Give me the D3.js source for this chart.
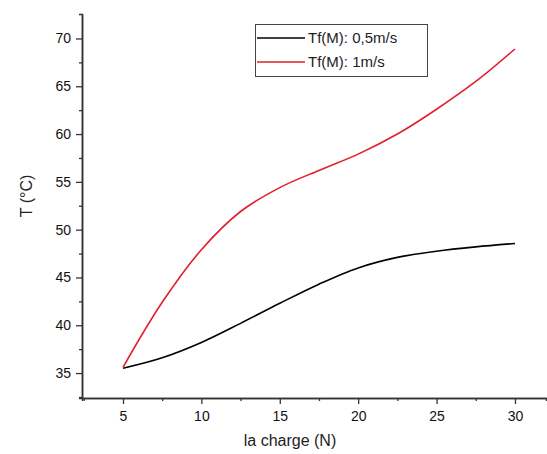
<!DOCTYPE html>
<html><head><meta charset="utf-8">
<script src="https://cdn.jsdelivr.net/npm/d3@7"></script>
<style>body{margin:0;background:#fff}svg{display:block}text{font-family:Arial,"Liberation Sans",sans-serif}</style>
</head><body><svg id="c" width="547" height="454"></svg>
<script>
const charge = [5, 7.5, 10, 12.5, 15, 17.5, 20, 22.5, 25, 27.5, 30];
const tSlow = [35.5, 36.6, 38.2, 40.2, 42.3, 44.3, 46.0, 47.1, 47.75, 48.2, 48.55];
const tFast = [35.6, 42.4, 47.9, 51.9, 54.4, 56.2, 57.9, 60.0, 62.6, 65.5, 68.9];
const seriesNames = ["Tf(M): 0,5m/s", "Tf(M): 1m/s"];
const seriesColors = ["#000000", "#e0202a"];
const xTicks = [5, 10, 15, 20, 25, 30];
const xMinor = [2.5, 7.5, 12.5, 17.5, 22.5, 27.5];
const yTicks = [35, 40, 45, 50, 55, 60, 65, 70];
const yMinor = [32.5, 37.5, 42.5, 47.5, 52.5, 57.5, 62.5, 67.5, 72.5];

const svg = d3.select("#c");
const x = d3.scaleLinear().domain([2.385, 31.98]).range([82, 546]);
const y = d3.scaleLinear().domain([32.39, 72.56]).range([398, 14]);

const axisColor = "#333";
// y axis
const gy = svg.append("g").attr("transform", "translate(82,0)");
gy.call(d3.axisLeft(y).tickValues(yTicks).tickSize(6).tickSizeOuter(0));
gy.append("g").call(d3.axisLeft(y).tickValues(yMinor.filter(v => v > 32.4 && v < 72.5)).tickSize(3).tickFormat(""));
gy.selectAll(".domain").attr("stroke", axisColor).attr("stroke-width", 1.5);
gy.selectAll(".tick line").attr("stroke", axisColor).attr("stroke-width", 1.3);
gy.selectAll(".tick text").attr("font-size", 14).attr("fill", "#111").attr("x", -11).attr("font-family", "Arial, Liberation Sans, sans-serif");

// x axis
const gx = svg.append("g").attr("transform", "translate(0,398)");
gx.call(d3.axisBottom(x).tickValues(xTicks).tickSize(6).tickSizeOuter(0));
gx.append("g").call(d3.axisBottom(x).tickValues(xMinor.filter(v => v > 2.4)).tickSize(3).tickFormat(""));
gx.selectAll(".domain").attr("stroke", axisColor).attr("stroke-width", 1.5);
gx.selectAll(".tick line").attr("stroke", axisColor).attr("stroke-width", 1.3);
gx.selectAll(".tick text").attr("font-size", 14).attr("fill", "#111").attr("y", 13).attr("font-family", "Arial, Liberation Sans, sans-serif");

// axis titles
svg.append("text").attr("transform", "translate(32,196) rotate(-90)").attr("text-anchor", "middle")
  .attr("font-size", 16).attr("fill", "#222").text("T (°C)");
svg.append("text").attr("x", 290).attr("y", 446).attr("text-anchor", "middle")
  .attr("font-size", 16).attr("fill", "#222").text("la charge (N)");

// lines
const line = d3.line().x(d => x(d[0])).y(d => y(d[1])).curve(d3.curveCatmullRom.alpha(0.5));
[tSlow, tFast].forEach((vals, i) => {
  svg.append("path").datum(charge.map((c, j) => [c, vals[j]]))
    .attr("fill", "none").attr("stroke", seriesColors[i]).attr("stroke-width", 1.6).attr("d", line);
});

// legend
svg.append("rect").attr("x", 255.5).attr("y", 24.5).attr("width", 172).attr("height", 52)
  .attr("fill", "#fff").attr("stroke", "#444").attr("stroke-width", 1);
seriesNames.forEach((n, i) => {
  const ly = 38 + i * 24;
  svg.append("line").attr("x1", 257).attr("x2", 305).attr("y1", ly).attr("y2", ly)
    .attr("stroke", seriesColors[i]).attr("stroke-width", 1.6);
  svg.append("text").attr("x", 308).attr("y", ly + 5).attr("font-size", 15).attr("fill", "#222").text(n);
});
</script></body></html>
